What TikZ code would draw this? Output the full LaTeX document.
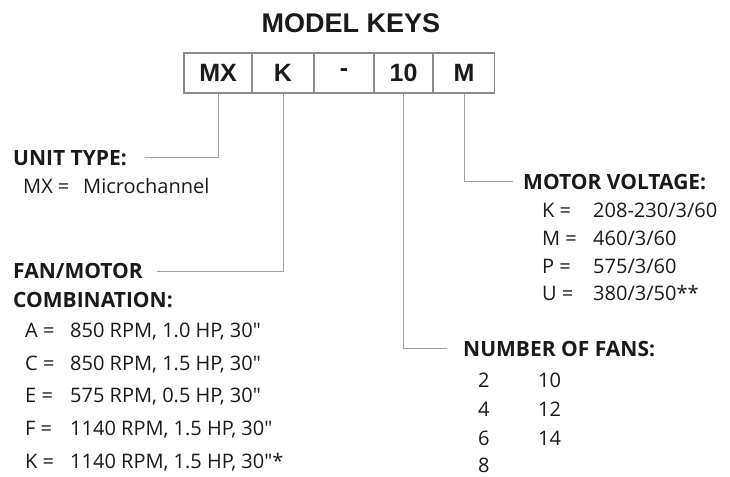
\documentclass[tikz,border=0pt]{standalone}
\usepackage{fontspec}
\setmainfont{Open Sans}
\newfontfamily\arialfont{Liberation Sans}
\definecolor{boxgray}{HTML}{8C8C8C}
\definecolor{linegray}{HTML}{A0A0A0}
\definecolor{txt}{HTML}{1A1A1A}
\begin{document}
\begin{tikzpicture}[x=1pt,y=-1pt,
  keybox/.style={draw=boxgray,line width=1.1pt,fill=white,minimum height=40pt,inner sep=0pt,
    font=\arialfont\bfseries\fontsize{25}{28}\selectfont,text=txt},
  head/.style={anchor=base west,inner sep=0pt,font=\bfseries\fontsize{21}{24}\selectfont,text=txt},
  body/.style={anchor=base west,inner sep=0pt,font=\fontsize{20}{24}\selectfont,text=txt},
  conn/.style={draw=linegray,line width=0.9pt}]
\useasboundingbox (0,0) rectangle (730,476);
\node[inner sep=0pt,anchor=base,font=\arialfont\bfseries\fontsize{27}{30}\selectfont,text=txt] (title) at (351,33) {MODEL KEYS};
% boxes
\node[keybox,minimum width=68pt] (bMX) at (218,73) {MX};
\node[keybox,minimum width=62pt] (bK) at (283,73) {K};
\node[keybox,minimum width=60pt] (bD) at (344,73) {-};
\node[keybox,minimum width=59pt] (bN) at (403.5,73) {10};
\node[keybox,minimum width=61pt] (bM) at (464,73) {M};
% unit type
\node[head] (uh) at (13,165) {UNIT TYPE:};
\node[body] (u1a) at (23,193) {MX =};
\node[body] (u1b) at (83,193) {Microchannel};
% fan/motor
\node[head] (fh1) at (13,278) {FAN/MOTOR};
\node[head] (fh2) at (13,307) {COMBINATION:};
\node[body] (fa1) at (25,337) {A =};
\node[body] (fa2) at (70,337) {850 RPM, 1.0 HP, 30\textquotedbl};
\node[body] (fc1) at (25,370) {C =};
\node[body] (fc2) at (70,370) {850 RPM, 1.5 HP, 30\textquotedbl};
\node[body] (fe1) at (25,402) {E =};
\node[body] (fe2) at (70,402) {575 RPM, 0.5 HP, 30\textquotedbl};
\node[body] (ff1) at (25,435) {F =};
\node[body] (ff2) at (70,435) {1140 RPM, 1.5 HP, 30\textquotedbl};
\node[body] (fk1) at (25,468) {K =};
\node[body] (fk2) at (70,468) {1140 RPM, 1.5 HP, 30\textquotedbl*};
% motor voltage
\node[head] (mh) at (523,189) {MOTOR VOLTAGE:};
\node[body] (mk1) at (542,217) {K =};
\node[body] (mk2) at (593,217) {208-230/3/60};
\node[body] (mm1) at (542,245) {M =};
\node[body] (mm2) at (593,245) {460/3/60};
\node[body] (mp1) at (542,273) {P =};
\node[body] (mp2) at (593,273) {575/3/60};
\node[body] (mu1) at (542,300) {U =};
\node[body] (mu2) at (593,300) {380/3/50**};
% number of fans
\node[head] (nh) at (463,356) {NUMBER OF FANS:};
\node[body] (n2) at (478,387) {2};
\node[body] (n10) at (538,387) {10};
\node[body] (n4) at (478,416) {4};
\node[body] (n12) at (538,416) {12};
\node[body] (n6) at (478,445) {6};
\node[body] (n14) at (538,445) {14};
\node[body] (n8) at (478,472) {8};
% connectors
\coordinate (cu) at (145,157);
\coordinate (cf) at (157,271);
\coordinate (cn) at (447,348);
\coordinate (cm) at (513,181);
\draw[conn] (bMX.south) |- (cu);
\draw[conn] (bK.south) |- (cf);
\draw[conn] (bN.south) |- (cn);
\draw[conn] (bM.south) |- (cm);
\end{tikzpicture}
\end{document}
